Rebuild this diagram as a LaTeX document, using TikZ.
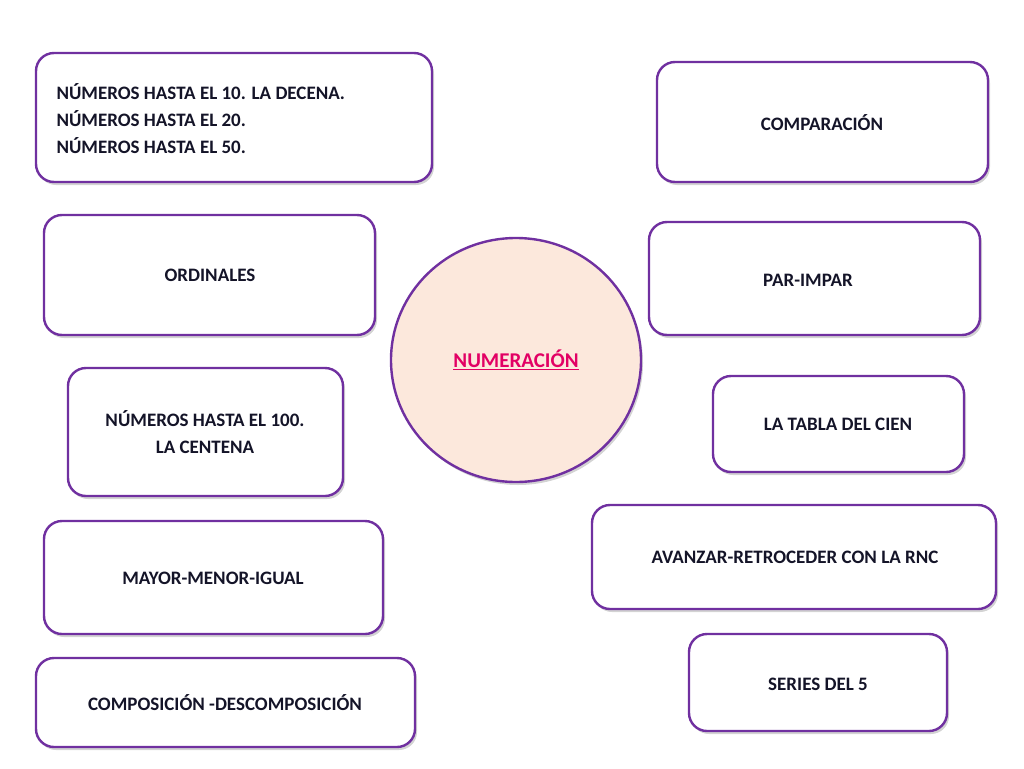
\documentclass[tikz,border=0pt]{standalone}
\usepackage{fontspec}
\setmainfont{Carlito}
\usetikzlibrary{shadows}
\definecolor{pur}{RGB}{112,48,160}
\definecolor{peach}{RGB}{252,232,220}
\definecolor{pinkt}{RGB}{226,0,100}
\definecolor{txt}{RGB}{20,20,40}
\begin{document}
\begin{tikzpicture}[x=1pt,y=-1pt,
  bx/.style={draw=pur,line width=2.4pt,rounded corners=18pt,fill=white,
    drop shadow={shadow xshift=2pt,shadow yshift=-3pt,opacity=0.35}},
  lb/.style={font=\fontsize{19}{27}\selectfont\bfseries,text=txt,align=center}]
\useasboundingbox (0,0) rectangle (1024,768);
\draw[bx] (36,53) rectangle (432,182);
\node[lb,align=left,anchor=west] (t1) at (53,119) {NÚMEROS HASTA EL 10. LA DECENA.\\NÚMEROS HASTA EL 20.\\NÚMEROS HASTA EL 50.};
\draw[bx] (657,62) rectangle (988,182);
\node[lb] (t2) at (822,123) {COMPARACIÓN};
\draw[bx] (44,215) rectangle (375,335);
\node[lb] (t3) at (210,275) {ORDINALES};
\draw[bx] (649,222) rectangle (980,335);
\node[lb] (t4) at (808,280) {PAR-IMPAR};
\draw[pur,line width=2.4pt,fill=peach,drop shadow={shadow xshift=2pt,shadow yshift=-3pt,opacity=0.35}] (516,360) ellipse (125 and 122);
\node[font=\fontsize{21}{25}\selectfont\bfseries,text=pinkt] (c) at (516,360) {\underline{NUMERACIÓN}};
\draw[bx] (68,368) rectangle (343,496);
\node[lb] (t6) at (205,432) {NÚMEROS HASTA EL 100.\\LA CENTENA};
\draw[bx] (713,376) rectangle (964,472);
\node[lb] (t7) at (838,424) {LA TABLA DEL CIEN};
\draw[bx] (592,505) rectangle (996,609);
\node[lb] (t8) at (795,557) {AVANZAR-RETROCEDER CON LA RNC};
\draw[bx] (44,521) rectangle (383,634);
\node[lb] (t9) at (213,578) {MAYOR-MENOR-IGUAL};
\draw[bx] (689,634) rectangle (947,731);
\node[lb] (t10) at (818,684) {SERIES DEL 5};
\draw[bx] (36,658) rectangle (415,747);
\node[lb] (t11) at (225,703) {COMPOSICIÓN -DESCOMPOSICIÓN};
\end{tikzpicture}
\end{document}
